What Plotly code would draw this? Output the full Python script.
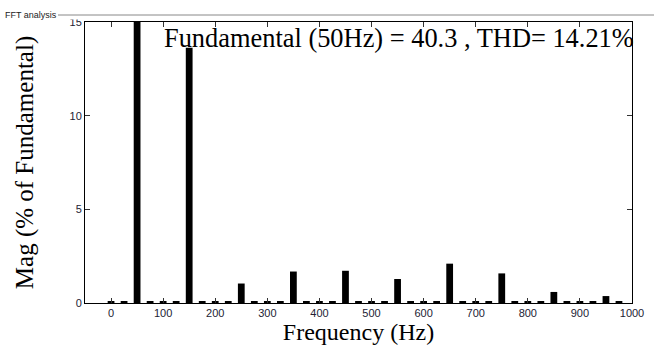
import plotly.graph_objects as go

freqs = [0, 25, 50, 75, 100, 125, 150, 175, 200, 225, 250, 275, 300, 325, 350, 375, 400, 425,
         450, 475, 500, 525, 550, 575, 600, 625, 650, 675, 700, 725, 750, 775, 800, 825, 850,
         875, 900, 925, 950, 975]
mags = [0.1, 0.1, 100.0, 0.1, 0.1, 0.1, 13.63, 0.1, 0.1, 0.1, 1.04, 0.1, 0.1, 0.1, 1.68, 0.1,
        0.1, 0.1, 1.72, 0.1, 0.1, 0.1, 1.28, 0.1, 0.1, 0.1, 2.1, 0.1, 0.1, 0.1, 1.58, 0.1,
        0.1, 0.1, 0.59, 0.1, 0.1, 0.1, 0.37, 0.1]
x_ticks = [0, 100, 200, 300, 400, 500, 600, 700, 800, 900, 1000]
y_ticks = [0, 5, 10, 15]
title_text = "Fundamental (50Hz) = 40.3 , THD= 14.21%"
panel_text = "FFT analysis"

fig = go.Figure(go.Bar(x=freqs, y=mags, width=13, marker=dict(color="black", line=dict(width=0))))

tickfont = dict(family="Liberation Sans Narrow, Arial Narrow, sans-serif", size=11, color="#222233")
serif = "Liberation Serif, Times New Roman, serif"

L, R, T, B = 85, 22, 22, 48
W, H = 654, 351
pw = W - L - R
ph = H - T - B


def px(x):
    return (x - L) / pw


def py(y):
    return (H - B - y) / ph


fig.update_layout(
    width=W, height=H,
    margin=dict(l=L, r=R, t=T, b=B, autoexpand=False),
    paper_bgcolor="white", plot_bgcolor="white",
    showlegend=False,
    xaxis=dict(range=[-50, 1000], tickvals=x_ticks, ticks="inside", ticklen=5, tickcolor="#333",
               showline=True, linecolor="black", linewidth=1, mirror="ticks", showgrid=False,
               zeroline=False, tickfont=tickfont, automargin=False,
               title=dict(text="Frequency (Hz)", font=dict(family=serif, size=24, color="black"), standoff=4)),
    yaxis=dict(range=[0, 15], tickvals=y_ticks, ticks="inside", ticklen=5, tickcolor="#333",
               showline=True, linecolor="black", linewidth=1, mirror="ticks", showgrid=False,
               zeroline=False, tickfont=tickfont, automargin=False,
               title=dict(text="Mag (% of Fundamental)", font=dict(family=serif, size=25, color="black"), standoff=28)),
    annotations=[
        dict(text=title_text, x=px(636), y=py(38), xref="paper", yref="paper", showarrow=False,
             font=dict(family=serif, size=26.4, color="black"), xanchor="right", yanchor="middle"),
        dict(text=panel_text, x=px(3), y=py(15), xref="paper", yref="paper", showarrow=False,
             font=dict(family="Liberation Sans Narrow, Arial Narrow, sans-serif", size=9, color="#222"),
             xanchor="left", yanchor="middle"),
    ],
)

# white mask clipping the top tick label, as in the reference group box
fig.add_shape(type="rect", xref="paper", yref="paper", layer="above",
              x0=px(60), x1=px(84), y0=py(19.5), y1=py(0),
              line=dict(width=0), fillcolor="white")
fig.add_shape(type="line", xref="paper", yref="paper", layer="above",
              x0=px(58), x1=px(654), y0=py(15), y1=py(15),
              line=dict(color="#888", width=1))

fig.write_html("out.html", config={"displayModeBar": False},
               post_script="document.body.style.margin='0';document.body.style.overflow='hidden';")
